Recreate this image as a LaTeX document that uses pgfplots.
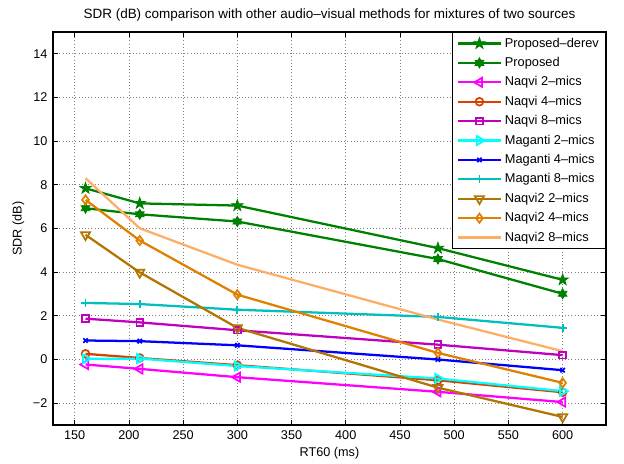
\documentclass[border=0pt]{standalone}
\usepackage{pgfplots}
\pgfplotsset{compat=1.18}
\usepackage{fontspec}
\setmainfont{Liberation Sans}
\definecolor{cgreen}{rgb}{0,0.5,0}
\definecolor{cmag}{rgb}{1,0,1}
\definecolor{cred}{rgb}{0.85,0.25,0}
\definecolor{cpurp}{rgb}{0.75,0,0.75}
\definecolor{ccyan}{rgb}{0,1,1}
\definecolor{cblue}{rgb}{0,0,1}
\definecolor{cteal}{rgb}{0,0.75,0.75}
\definecolor{cgold}{rgb}{0.7,0.46,0}
\definecolor{corange}{rgb}{0.88,0.5,0}
\definecolor{clight}{rgb}{1,0.68,0.4}
\pgfdeclareplotmark{pentagram}{%
 \pgfpathmoveto{\pgfpointpolar{90}{1.35\pgfplotmarksize}}%
 \pgfpathlineto{\pgfpointpolar{126}{0.52\pgfplotmarksize}}%
 \pgfpathlineto{\pgfpointpolar{162}{1.35\pgfplotmarksize}}%
 \pgfpathlineto{\pgfpointpolar{198}{0.52\pgfplotmarksize}}%
 \pgfpathlineto{\pgfpointpolar{234}{1.35\pgfplotmarksize}}%
 \pgfpathlineto{\pgfpointpolar{270}{0.52\pgfplotmarksize}}%
 \pgfpathlineto{\pgfpointpolar{306}{1.35\pgfplotmarksize}}%
 \pgfpathlineto{\pgfpointpolar{342}{0.52\pgfplotmarksize}}%
 \pgfpathlineto{\pgfpointpolar{18}{1.35\pgfplotmarksize}}%
 \pgfpathlineto{\pgfpointpolar{54}{0.52\pgfplotmarksize}}%
 \pgfpathclose\pgfusepathqfillstroke}
\pgfdeclareplotmark{hexagram}{%
 \pgfpathmoveto{\pgfpointpolar{90}{1.15\pgfplotmarksize}}%
 \pgfpathlineto{\pgfpointpolar{120}{0.66\pgfplotmarksize}}%
 \pgfpathlineto{\pgfpointpolar{150}{1.15\pgfplotmarksize}}%
 \pgfpathlineto{\pgfpointpolar{180}{0.66\pgfplotmarksize}}%
 \pgfpathlineto{\pgfpointpolar{210}{1.15\pgfplotmarksize}}%
 \pgfpathlineto{\pgfpointpolar{240}{0.66\pgfplotmarksize}}%
 \pgfpathlineto{\pgfpointpolar{270}{1.15\pgfplotmarksize}}%
 \pgfpathlineto{\pgfpointpolar{300}{0.66\pgfplotmarksize}}%
 \pgfpathlineto{\pgfpointpolar{330}{1.15\pgfplotmarksize}}%
 \pgfpathlineto{\pgfpointpolar{0}{0.66\pgfplotmarksize}}%
 \pgfpathlineto{\pgfpointpolar{30}{1.15\pgfplotmarksize}}%
 \pgfpathlineto{\pgfpointpolar{60}{0.66\pgfplotmarksize}}%
 \pgfpathclose\pgfusepathqfillstroke}
\pgfdeclareplotmark{ltri}{%
 \pgfpathmoveto{\pgfpointpolar{180}{1.2\pgfplotmarksize}}%
 \pgfpathlineto{\pgfpointpolar{60}{1.2\pgfplotmarksize}}%
 \pgfpathlineto{\pgfpointpolar{300}{1.2\pgfplotmarksize}}%
 \pgfpathclose\pgfusepathqstroke}
\pgfdeclareplotmark{rtri}{%
 \pgfpathmoveto{\pgfpointpolar{0}{1.2\pgfplotmarksize}}%
 \pgfpathlineto{\pgfpointpolar{120}{1.2\pgfplotmarksize}}%
 \pgfpathlineto{\pgfpointpolar{240}{1.2\pgfplotmarksize}}%
 \pgfpathclose\pgfusepathqstroke}
\pgfdeclareplotmark{dtri}{%
 \pgfpathmoveto{\pgfpointpolar{270}{1.2\pgfplotmarksize}}%
 \pgfpathlineto{\pgfpointpolar{30}{1.2\pgfplotmarksize}}%
 \pgfpathlineto{\pgfpointpolar{150}{1.2\pgfplotmarksize}}%
 \pgfpathclose\pgfusepathqstroke}
\begin{document}
\begin{tikzpicture}
\begin{axis}[
  width=414.75pt, height=294.75pt, scale only axis,
  xmin=130, xmax=640, ymin=-3, ymax=15,
  xtick={150,200,...,600},
  ytick={-2,0,...,14},
  yticklabels={−2,0,2,4,6,8,10,12,14},
  /pgf/number format/assume math mode=true,
  tick label style={font=\fontsize{9.5}{11}\selectfont},
  label style={font=\fontsize{9.5}{11}\selectfont},
  title style={font=\fontsize{10.1}{12}\selectfont, yshift=-2pt},
  title={SDR (dB) comparison with other audio–visual methods for mixtures of two sources},
  xlabel={RT60 (ms)}, ylabel={SDR (dB)},
  xlabel style={yshift=2pt}, ylabel style={yshift=-1pt},
  tick align=inside, tick pos=both,
  major tick length=3.5pt,
  axis line style={line width=1pt},
  every tick/.style={black, line width=0.6pt},
  grid=major, grid style={dotted, gray, line width=0.6pt},
  line width=1.7pt, mark size=3.3pt,
  every axis plot/.append style={line width=1.7pt},
  legend cell align=left,
  legend style={at={(1,1)}, anchor=north east, draw=black, line width=0.8pt,
    font=\fontsize{9.6}{11.5}\selectfont, row sep=2.1pt, inner sep=2pt, inner xsep=3pt},
  legend image code/.code={%
    \draw[mark repeat=2,mark phase=2] plot coordinates {(0cm,0cm) (0.57cm,0cm) (1.14cm,0cm)};},
]
\addplot[cgreen, mark=pentagram, mark options={solid, fill=cgreen, line width=0.6pt}] coordinates {(160,7.84) (210,7.15) (300,7.05) (485,5.10) (600,3.65)};
\addlegendentry{Proposed–derev}
\addplot[cgreen, mark=hexagram, mark options={solid, fill=cgreen, line width=0.6pt}] coordinates {(160,6.93) (210,6.65) (300,6.32) (485,4.60) (600,3.01)};
\addlegendentry{Proposed}
\addplot[cmag, mark=ltri, mark options={solid, line width=1.3pt}] coordinates {(160,-0.23) (210,-0.43) (300,-0.81) (485,-1.48) (600,-1.95)};
\addlegendentry{Naqvi 2–mics}
\addplot[cred, mark=o, mark options={solid, line width=1.3pt}, mark size=2.9pt] coordinates {(160,0.26) (210,0.07) (300,-0.26) (485,-0.95) (600,-1.5)};
\addlegendentry{Naqvi 4–mics}
\addplot[cpurp, mark=square, mark options={solid, line width=1.3pt}, mark size=2.5pt] coordinates {(160,1.87) (210,1.70) (300,1.34) (485,0.68) (600,0.20)};
\addlegendentry{Naqvi 8–mics}
\addplot[ccyan, mark=rtri, mark options={solid, line width=1.3pt}] coordinates {(160,0.03) (210,0.04) (300,-0.3) (485,-0.87) (600,-1.45)};
\addlegendentry{Maganti 2–mics}
\addplot[cblue, mark=x, mark options={solid, line width=1.3pt}, mark size=2.3pt] coordinates {(160,0.87) (210,0.84) (300,0.65) (485,0.0) (600,-0.49)};
\addlegendentry{Maganti 4–mics}
\addplot[cteal, mark=+, mark options={solid, line width=1.3pt}, mark size=3.1pt] coordinates {(160,2.59) (210,2.54) (300,2.28) (485,1.95) (600,1.45)};
\addlegendentry{Maganti 8–mics}
\addplot[cgold, mark=dtri, mark options={solid, line width=1.3pt}] coordinates {(160,5.71) (210,3.99) (300,1.45) (485,-1.29) (600,-2.63)};
\addlegendentry{Naqvi2 2–mics}
\addplot[corange, mark=diamond, mark options={solid, line width=1.3pt}, mark size=3.4pt] coordinates {(160,7.31) (210,5.45) (300,2.97) (485,0.30) (600,-1.07)};
\addlegendentry{Naqvi2 4–mics}
\addplot[clight, mark=none] coordinates {(160,8.30) (210,6.01) (300,4.34) (485,1.83) (600,0.38)};
\addlegendentry{Naqvi2 8–mics}
\end{axis}
\path (current axis.south west) ++(-39.75pt,-27pt) node[inner sep=0pt, minimum size=0pt] {};
\path (current axis.north east) ++(13.5pt,24pt) node[inner sep=0pt, minimum size=0pt] {};
\end{tikzpicture}
\end{document}
